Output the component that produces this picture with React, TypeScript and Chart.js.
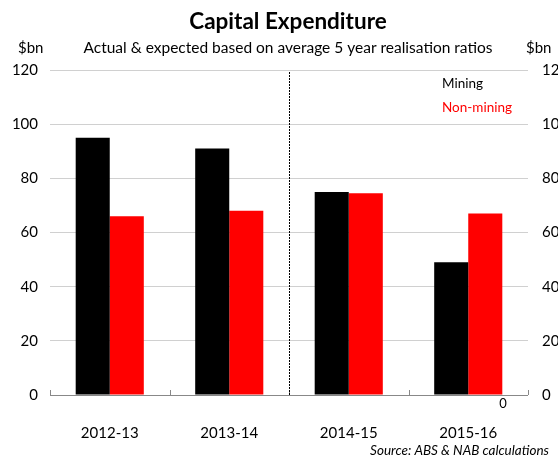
import React, { useEffect, useRef } from "react";
import { Chart, registerables } from "chart.js";

Chart.register(...registerables);

const categories = ["2012-13", "2013-14", "2014-15", "2015-16"];
const mining = [95, 91, 75, 49];
const nonMining = [66, 68, 74.5, 67];
const yTicks = [0, 20, 40, 60, 80, 100, 120];
const FONT = "Lato, 'Open Sans', sans-serif";

export default function App() {
  const ref = useRef<HTMLCanvasElement>(null);
  useEffect(() => {
    document.body.style.margin = "0";
    const overlay = {
      id: "overlay",
      afterDraw(chart: any) {
        const ctx = chart.ctx;
        const x = chart.scales.x;
        const area = chart.chartArea;
        ctx.save();
        // titles
        ctx.fillStyle = "#000";
        ctx.textAlign = "center";
        ctx.textBaseline = "middle";
        ctx.font = `bold 22.5px ${FONT}`;
        ctx.fillText("Capital Expenditure", 288, 22);
        ctx.font = `15.5px ${FONT}`;
        ctx.fillText("Actual & expected based on average 5 year realisation ratios", 288, 48);
        ctx.font = `15px ${FONT}`;
        ctx.textAlign = "left";
        ctx.fillText("$bn", 18, 48);
        ctx.fillText("$bn", 526, 48);
        // legend
        ctx.font = `13.5px ${FONT}`;
        ctx.fillStyle = "#000";
        ctx.fillText("Mining", 442, 84);
        ctx.fillStyle = "#ff0000";
        ctx.fillText("Non-mining", 442, 108);
        // source
        ctx.fillStyle = "#000";
        ctx.textAlign = "right";
        ctx.font = `italic 13.5px ${FONT}`;
        ctx.fillText("Source: ABS & NAB calculations", 549, 451);
        // stray zero label
        ctx.textAlign = "center";
        ctx.font = `13px ${FONT}`;
        ctx.fillText("0", 503, 404);
        // category boundary ticks
        const half = (x.getPixelForValue(1) - x.getPixelForValue(0)) / 2;
        ctx.strokeStyle = "#888";
        ctx.lineWidth = 1;
        for (let i = 0; i <= categories.length; i++) {
          const px = Math.round(x.getPixelForValue(0) - half + i * half * 2) + 0.5;
          ctx.beginPath();
          ctx.moveTo(px, area.bottom);
          ctx.lineTo(px, area.bottom - 5);
          ctx.stroke();
        }
        // dotted divider
        const dx = Math.round(x.getPixelForValue(1) + half) + 0.5;
        ctx.strokeStyle = "#000";
        ctx.setLineDash([2, 1]);
        ctx.beginPath();
        ctx.moveTo(dx, area.top + 2);
        ctx.lineTo(dx, area.bottom);
        ctx.stroke();
        ctx.restore();
      },
    };
    const chart = new Chart(ref.current!, {
      type: "bar",
      data: {
        labels: categories,
        datasets: [
          { label: "Mining", data: mining, backgroundColor: "#000000", yAxisID: "y" },
          { label: "Non-mining", data: nonMining, backgroundColor: "#ff0000", yAxisID: "y" },
        ],
      },
      options: {
        responsive: false,
        animation: false,
        layout: { padding: { top: 70, left: 0, right: 0, bottom: 0 } },
        plugins: { legend: { display: false }, tooltip: { enabled: false } },
        datasets: { bar: { categoryPercentage: 0.57, barPercentage: 1 } },
        scales: {
          x: {
            grid: { display: false },
            border: { display: false },
            ticks: { color: "#000", font: { family: FONT, size: 15 }, padding: 21 },
            afterFit(s: any) {
              s.height = 63;
            },
          },
          y: {
            min: 0,
            max: 120,
            afterBuildTicks(s: any) {
              s.ticks = yTicks.map((v) => ({ value: v }));
            },
            grid: {
              drawTicks: false,
              color: (c: any) => (c.tick && c.tick.value === 0 ? "#888" : "#d0d0d0"),
            },
            border: { display: false },
            ticks: { color: "#000", font: { family: FONT, size: 15 }, padding: 12 },
            afterFit(s: any) {
              s.width = 50;
            },
          },
          y2: {
            position: "right",
            min: 0,
            max: 120,
            afterBuildTicks(s: any) {
              s.ticks = yTicks.map((v) => ({ value: v }));
            },
            grid: { display: false, drawTicks: false },
            border: { display: false },
            ticks: { color: "#000", font: { family: FONT, size: 15 }, padding: 14 },
            afterFit(s: any) {
              s.width = 30;
            },
          },
        },
      },
      plugins: [overlay],
    });
    return () => chart.destroy();
  }, []);
  return (
    <div style={{ position: "absolute", left: 0, top: 0, width: 558, height: 458 }}>
      <canvas ref={ref} width={558} height={458} style={{ width: 558, height: 458 }} />
    </div>
  );
}
